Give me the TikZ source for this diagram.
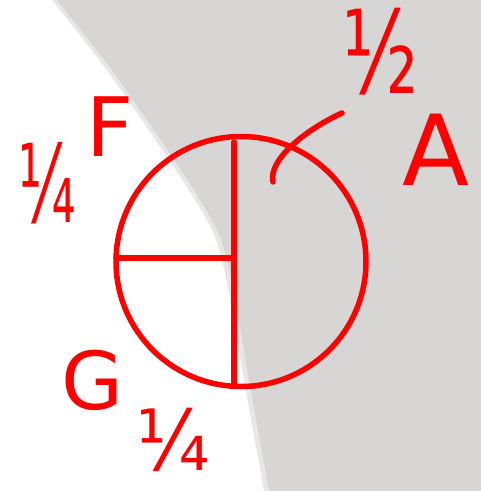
\documentclass[tikz,border=0pt]{standalone}
\usepackage{fontspec}
\setmainfont{DejaVu Sans}
\definecolor{penred}{RGB}{255,0,0}
\definecolor{greyfill}{RGB}{216,213,213}
\definecolor{greysoft}{RGB}{232,230,230}
\begin{document}
\begin{tikzpicture}[x=1pt,y=-1pt,
  pen/.style={draw=penred,line width=5.5pt,line cap=round,line join=round},
  hand/.style={text=penred,inner sep=0pt,anchor=center}]
\useasboundingbox (0,0) rectangle (481,491);
\fill[white] (0,0) rectangle (481,491);
% grey region with soft edge
\fill[greysoft] plot[smooth] coordinates {(52,0) (114,80) (197,203) (222,260) (244,380) (264,491)} -- (481,491) -- (481,0) -- cycle;
\fill[greyfill] plot[smooth] coordinates {(57,0) (119,80) (202,203) (227,260) (249,380) (269,491)} -- (481,491) -- (481,0) -- cycle;
% circle and radii
\coordinate (c) at (241,261.5);
\coordinate (top) at (234,142);
\coordinate (bot) at (234,385);
\coordinate (left) at (116,258);
\coordinate (mid) at (234,258);
\draw[pen] (c) circle[radius=125];
\draw[pen] (top) -- (bot);
\draw[pen] (left) -- (mid);
% hook stroke
\coordinate (hs) at (342,113);
\coordinate (he) at (273,182);
\draw[pen] (hs) .. controls (305,130) and (268,160) .. (he);
% labels
\node[hand,font=\fontsize{115}{115}\selectfont,xscale=0.68] (half) at (380,52) {½};
\node[hand,font=\fontsize{98}{98}\selectfont] (A) at (436,150) {A};
\node[hand,font=\fontsize{82}{82}\selectfont] (F) at (110,127) {F};
\node[hand,font=\fontsize{108}{108}\selectfont,xscale=0.55] (qF) at (47,183) {¼};
\node[hand,font=\fontsize{80}{80}\selectfont] (G) at (92,380) {G};
\node[hand,font=\fontsize{84}{84}\selectfont,xscale=0.9] (qG) at (173,440) {¼};
\end{tikzpicture}
\end{document}
